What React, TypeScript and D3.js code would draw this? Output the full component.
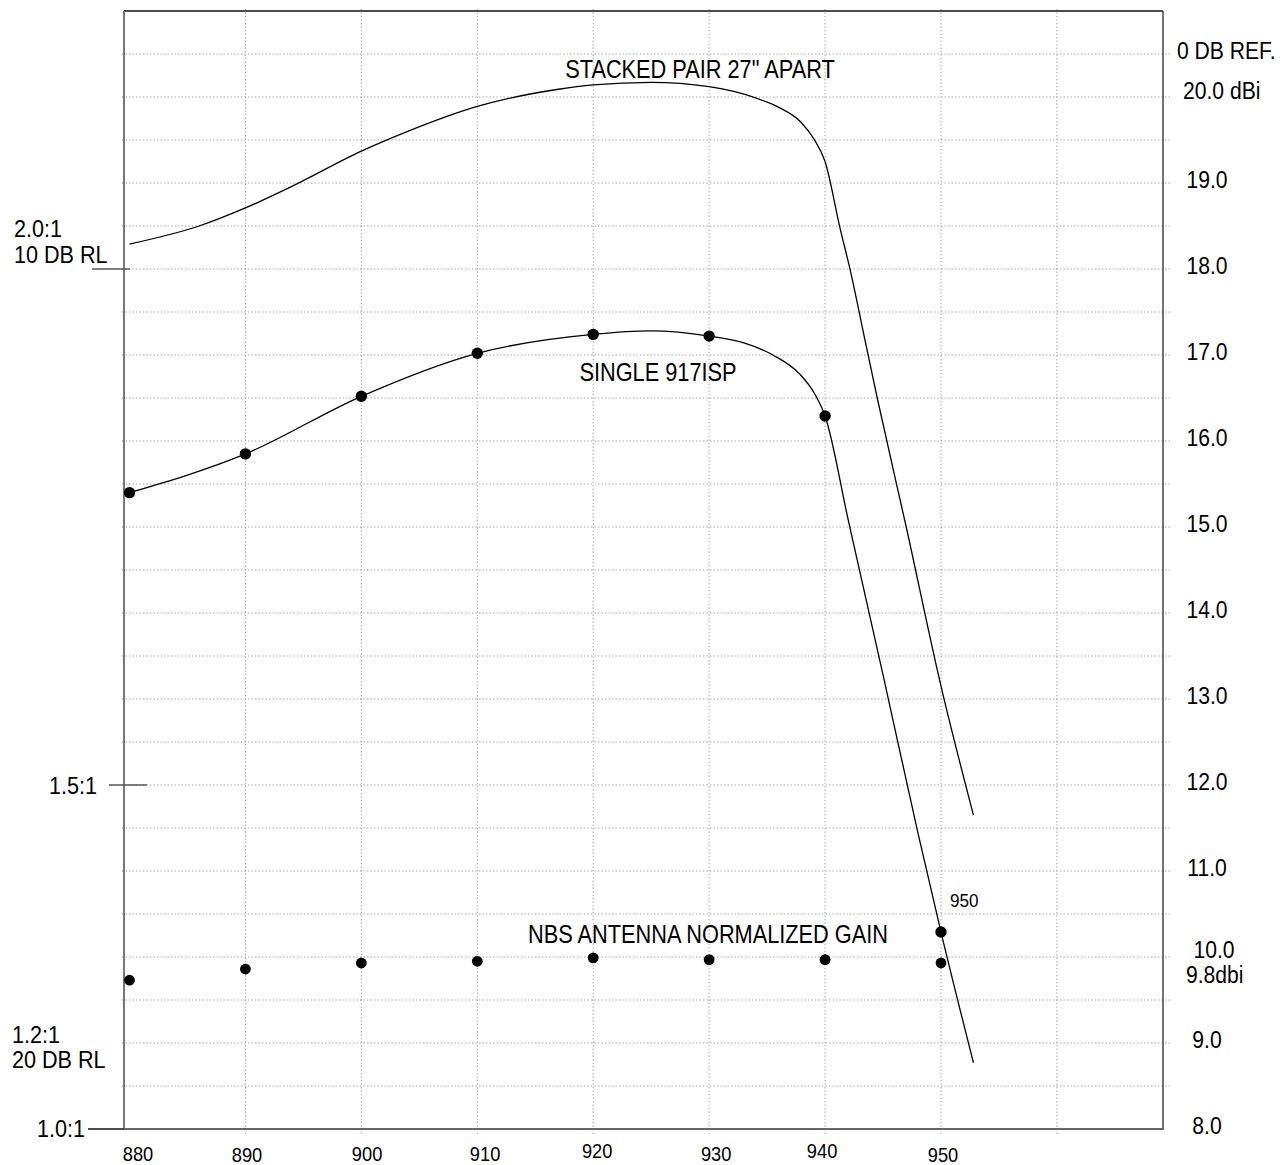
import React from "react";
import * as d3 from "d3";

// ---- Data ----
const xTickValues = [880, 890, 900, 910, 920, 930, 940, 950];
const xTickLabels = ["880", "890", "900", "910", "920", "930", "940", "950"];
const xGridValues = [890, 900, 910, 920, 930, 940, 950, 960];

const rightTickGain = [8, 9, 10, 11, 12, 13, 14, 15, 16, 17, 18, 19, 20, 20.5, 9.8];
const rightTickLabels = ["8.0", "9.0", "10.0", "11.0", "12.0", "13.0", "14.0", "15.0", "16.0", "17.0", "18.0", "19.0", "20.0 dBi", "0 DB REF.", "9.8dbi"];

const leftVswrLabels = ["2.0:1", "1.5:1", "1.2:1", "1.0:1"];
const leftRlLabels = ["10 DB RL", "", "20 DB RL", ""];
const leftGainPos = [18, 12, 9, 8];

// Stacked pair 27" apart (trace, no markers)
const stackedFreq = [880, 886, 890, 894, 900, 904, 910, 917, 920, 925, 930, 934, 936, 937.9, 939, 940, 941.3, 942.2, 943.4, 944.5, 947, 950, 952.8];
const stackedGain = [18.29, 18.5, 18.71, 18.96, 19.37, 19.6, 19.89, 20.09, 20.14, 20.17, 20.12, 19.99, 19.88, 19.71, 19.52, 19.25, 18.47, 17.97, 17.2, 16.5, 15.0, 13.15, 11.65];

// Single 917ISP trace and measured points
const singleFreq = [880, 890, 900, 910, 920, 925, 930, 933, 935.5, 937.8, 939.1, 940, 942, 945, 948, 950, 952.8];
const singleGain = [15.4, 15.85, 16.52, 17.02, 17.24, 17.28, 17.22, 17.14, 17.0, 16.78, 16.55, 16.29, 15.08, 13.28, 11.45, 10.29, 8.77];
const singleDotFreq = [880, 890, 900, 910, 920, 930, 940, 950];
const singleDotGain = [15.4, 15.85, 16.52, 17.02, 17.24, 17.22, 16.29, 10.29];

// NBS antenna normalized gain (markers only)
const nbsFreq = [880, 890, 900, 910, 920, 930, 940, 950];
const nbsGain = [9.73, 9.86, 9.93, 9.95, 9.99, 9.97, 9.97, 9.93];

const FONT = "'Liberation Sans', Arial, Helvetica, sans-serif";

function SText(props: { x: number; y: number; size: number; sx?: number; anchor?: string; children: React.ReactNode }) {
  const { x, y, size, sx = 0.87, anchor = "start", children } = props;
  return (
    <text
      transform={`translate(${x},${y}) scale(${sx},1)`}
      fontFamily={FONT}
      fontSize={size}
      textAnchor={anchor as any}
      fill="#000"
    >
      {children}
    </text>
  );
}

export default function App() {
  const W = 1287;
  const H = 1165;
  const left = 124, right = 1163, top = 11, bottom = 1129;

  const x = d3.scaleLinear().domain([880, 950]).range([129.5, 941]);
  const y = d3.scaleLinear().domain([8, 21]).range([1129, 11]);

  const line = d3
    .line<[number, number]>()
    .x((d) => x(d[0]))
    .y((d) => y(d[1]))
    .curve(d3.curveMonotoneX);

  const stackedPts = stackedFreq.map((f, i) => [f, stackedGain[i]] as [number, number]);
  const singlePts = singleFreq.map((f, i) => [f, singleGain[i]] as [number, number]);

  const hGrid = d3.range(8.5, 20.51, 0.5);

  // layout tweaks for x tick labels
  const xLabelDx = [8.5, 1.6, 5.7, 7.8, 3.9, 7, -3, 2];
  const xLabelY = [1161, 1162, 1161, 1161, 1158, 1161, 1158, 1162];

  const rightLayout = (lab: string, g: number) => {
    const base = y(g);
    if (lab === "20.0 dBi") return { x: 1183, y: base - 7 + 8.6, anchor: "start" };
    if (lab === "0 DB REF.") return { x: 1177, y: base - 4 + 8.6, anchor: "start" };
    if (lab === "9.8dbi") return { x: 1186, y: base + 8.6, anchor: "start" };
    if (lab === "10.0") return { x: 1214, y: base - 8 + 8.6, anchor: "middle" };
    return { x: 1207, y: base - 4 + 8.6, anchor: "middle" };
  };

  return (
    <svg
      width={W}
      height={H}
      viewBox={`0 0 ${W} ${H}`}
      style={{ position: "absolute", left: 0, top: 0, background: "#fff" }}
    >
      <rect x={0} y={0} width={W} height={H} fill="#fff" />

      {/* grid */}
      <g stroke="#9a9a9a" strokeWidth={1} strokeDasharray="1.3,2.2">
        {hGrid.map((g) => (
          <line key={"h" + g} x1={left - 2} x2={1170} y1={y(g)} y2={y(g)} />
        ))}
        {xGridValues.map((f) => (
          <line key={"v" + f} x1={x(f)} x2={x(f)} y1={top - 2} y2={bottom + 6} />
        ))}
      </g>

      {/* frame */}
      <line x1={left} x2={right} y1={top} y2={top} stroke="#111" strokeWidth={1.5} />
      <line x1={right} x2={right} y1={top} y2={bottom} stroke="#444" strokeWidth={1.5} />
      <line x1={left} x2={left} y1={top} y2={bottom} stroke="#777" strokeWidth={2} />
      <line x1={left} x2={right + 1} y1={bottom} y2={bottom} stroke="#666" strokeWidth={2} />

      {/* curves */}
      <path d={line(stackedPts) || ""} fill="none" stroke="#000" strokeWidth={1.3} />
      <path d={line(singlePts) || ""} fill="none" stroke="#000" strokeWidth={1.3} />

      {/* markers */}
      {singleDotFreq.map((f, i) => (
        <circle key={"s" + f} cx={x(f)} cy={y(singleDotGain[i])} r={5.7} fill="#000" />
      ))}
      {nbsFreq.map((f, i) => (
        <circle key={"n" + f} cx={x(f)} cy={y(nbsGain[i])} r={5.4} fill="#000" />
      ))}

      {/* series labels */}
      <SText x={700} y={78} size={25} anchor="middle">STACKED PAIR 27" APART</SText>
      <SText x={658} y={381} size={25} anchor="middle">SINGLE 917ISP</SText>
      <SText x={708} y={943} size={25} anchor="middle">NBS ANTENNA NORMALIZED GAIN</SText>
      <SText x={950} y={907} size={19} sx={0.9} anchor="start">950</SText>

      {/* bottom tick labels */}
      {xTickValues.map((f, i) => (
        <SText key={"xt" + f} x={x(f) + xLabelDx[i]} y={xLabelY[i]} size={21} anchor="middle">
          {xTickLabels[i]}
        </SText>
      ))}

      {/* right tick labels */}
      {rightTickLabels.map((lab, i) => {
        const l = rightLayout(lab, rightTickGain[i]);
        return (
          <SText key={"rt" + i} x={l.x} y={l.y} size={24} sx={0.88} anchor={l.anchor}>
            {lab}
          </SText>
        );
      })}

      {/* left VSWR / return-loss labels */}
      {leftVswrLabels.map((lab, i) => {
        const gy = y(leftGainPos[i]);
        if (i === 0) {
          return (
            <g key={"lv" + i}>
              <line x1={92} x2={130} y1={gy} y2={gy} stroke="#555" strokeWidth={1.3} />
              <SText x={14} y={gy - 32} size={24} sx={0.9}>{lab}</SText>
              <SText x={14} y={gy - 6} size={24} sx={0.9}>{leftRlLabels[i]}</SText>
            </g>
          );
        }
        if (i === 1) {
          return (
            <g key={"lv" + i}>
              <line x1={109} x2={147} y1={gy} y2={gy} stroke="#555" strokeWidth={1.3} />
              <SText x={97} y={gy + 8.5} size={24} sx={0.9} anchor="end">{lab}</SText>
            </g>
          );
        }
        if (i === 2) {
          return (
            <g key={"lv" + i}>
              <SText x={12} y={gy} size={24} sx={0.9}>{lab}</SText>
              <SText x={12} y={gy + 25} size={24} sx={0.9}>{leftRlLabels[i]}</SText>
            </g>
          );
        }
        return (
          <g key={"lv" + i}>
            <line x1={88} x2={124} y1={gy} y2={gy} stroke="#111" strokeWidth={1.3} />
            <SText x={85} y={gy + 8} size={24} sx={0.9} anchor="end">{lab}</SText>
          </g>
        );
      })}
    </svg>
  );
}
